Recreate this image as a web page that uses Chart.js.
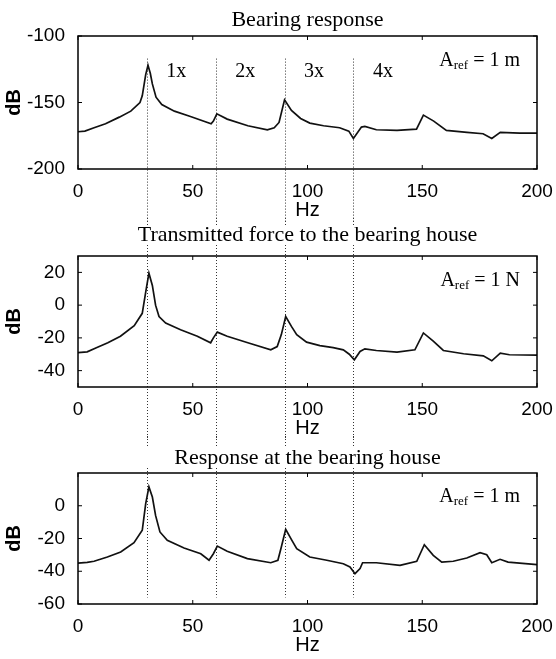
<!DOCTYPE html>
<html>
<head>
<meta charset="utf-8">
<script src="https://cdn.jsdelivr.net/npm/chart.js@4.4.1/dist/chart.umd.min.js"></script>
<style>
  body { margin: 0; background: #fff; }
  #wrap { position: relative; width: 556px; height: 659px; }
  canvas { position: absolute; left: 0; }
</style>
</head>
<body>
<div id="wrap">
  <canvas id="c1" width="556" height="222" style="top:0px"></canvas>
  <canvas id="c2" width="556" height="222" style="top:218px"></canvas>
  <canvas id="c3" width="556" height="223" style="top:436px"></canvas>
</div>
<script>
// Hz
const xTicks = [0, 50, 100, 150, 200];
const harmonics = [30, 60, 90, 120];
const harmonicLabels = ['1x', '2x', '3x', '4x'];

// bearing response, dB re 1 m
const freq1 = [0, 3, 7, 12, 18, 23, 27, 28, 29.5, 30.5, 31.5, 32.4, 34, 36.5, 42, 49, 58, 59, 60.5, 65, 74, 82.5, 85.5, 87.6, 90, 93, 97, 101, 107, 114, 118, 120, 123.5, 125, 130, 139, 147.5, 150.5, 155, 160.5, 169.5, 176.5, 180.3, 184, 192.5, 200];
const resp1 = [-172, -171.5, -169, -166, -161, -156.5, -150, -145, -129, -122, -128, -136, -146, -151.5, -156.5, -160.5, -166, -164, -158.5, -162.5, -167.5, -170.5, -169, -165, -148, -156, -162, -165.5, -167.5, -169, -171.5, -177, -168.5, -168, -170.5, -171, -170, -159.5, -164, -171, -172.5, -173.5, -177, -172.5, -173, -173];
const yTicks1 = [-100, -150, -200];

// transmitted force, dB re 1 N
const freq2 = [0, 4, 8, 13, 18.5, 24.5, 28, 29.5, 30.9, 32.4, 33.8, 35.3, 38.2, 44.7, 52, 57.8, 59, 60.7, 65, 74, 84, 86.8, 88.6, 90.5, 93, 95.3, 99.6, 105.4, 111.2, 115.6, 118.2, 120.4, 122.9, 125, 130, 139, 146.8, 150.5, 154.8, 159.2, 168, 176.6, 180.3, 184, 188, 200];
const force2 = [-29, -28.5, -26, -23, -19, -12.5, -5, 8, 19.5, 12, 0, -7, -11, -15, -19, -23, -20, -16.5, -19, -23, -27.3, -25.3, -18, -7, -13, -18, -22.6, -24.7, -26, -27.3, -30, -33.4, -28.3, -26.7, -27.7, -28.7, -27.3, -17, -22, -27.7, -29.7, -31, -34, -29.3, -30.3, -30.5];
const yTicks2 = [20, 0, -20, -40];

// bearing house response, dB re 1 m
const freq3 = [0, 4, 7, 12.8, 18.6, 24.4, 28, 29.5, 30.9, 32.4, 33.8, 35.7, 38.9, 46.2, 53.5, 57.1, 59, 60.7, 65, 73.8, 84, 87.1, 88.6, 90.5, 93.2, 95.3, 101, 108.4, 115.6, 118.5, 120.7, 122.9, 124, 130, 140.3, 147.6, 150.9, 154.8, 158.5, 163.5, 169.4, 175.2, 178.1, 180.3, 183.9, 187.4, 200];
const resp3 = [-35, -34.6, -33.9, -31.3, -28.2, -22.6, -15, 1.3, 11.5, 5.3, -5.9, -16, -21.1, -25.8, -29.3, -33.3, -29.3, -24.6, -27.8, -32.3, -34.8, -33.3, -25.2, -14.4, -21.1, -26.2, -31.3, -33.3, -35.4, -37.4, -41.5, -38.4, -34.8, -34.8, -36.4, -33.9, -23.8, -30.3, -34.4, -33.9, -31.9, -28.7, -29.9, -34.8, -32.7, -34.4, -36];
const yTicks3 = [0, -20, -40, -60];

const sans = 'Liberation Sans, Arial, sans-serif';
const serif = 'Liberation Serif, Times New Roman, serif';

// frame, inward ticks, dotted harmonic lines, titles and text notes
const marksPlugin = {
  id: 'marks',
  beforeDatasetsDraw(chart, args, opts) {
    const { ctx, scales: { x, y } } = chart;
    ctx.save();
    ctx.strokeStyle = '#333';
    ctx.lineWidth = 1;
    ctx.setLineDash([1, 2]);
    harmonics.forEach(h => {
      const px = Math.round(x.getPixelForValue(h)) + 0.5;
      ctx.beginPath();
      if (opts.lineFrom !== undefined) {
        ctx.moveTo(px, y.getPixelForValue(opts.lineFrom));
      } else {
        ctx.moveTo(px, 0);
        ctx.lineTo(px, opts.titleY - 10);
        ctx.moveTo(px, opts.titleY + 10);
      }
      ctx.lineTo(px, opts.lineTo !== undefined ? y.getPixelForValue(opts.lineTo) : chart.height);
      ctx.stroke();
    });
    ctx.restore();
  },
  afterDatasetsDraw(chart, args, opts) {
    const { ctx, chartArea: a, scales: { x, y } } = chart;
    ctx.save();
    ctx.strokeStyle = '#000';
    ctx.lineWidth = 1;
    const t = 4;
    x.ticks.forEach(tk => {
      const px = x.getPixelForValue(tk.value);
      ctx.beginPath();
      ctx.moveTo(px, a.bottom); ctx.lineTo(px, a.bottom - t);
      ctx.moveTo(px, a.top); ctx.lineTo(px, a.top + t);
      ctx.stroke();
    });
    y.ticks.forEach(tk => {
      const py = y.getPixelForValue(tk.value);
      ctx.beginPath();
      ctx.moveTo(a.left, py); ctx.lineTo(a.left + t, py);
      ctx.moveTo(a.right, py); ctx.lineTo(a.right - t, py);
      ctx.stroke();
    });
    ctx.lineWidth = 1.5;
    ctx.strokeRect(a.left, a.top, a.width, a.height);

    ctx.fillStyle = '#000';
    // panel title, centred over the plot box
    ctx.font = '22px ' + serif;
    ctx.textAlign = 'center';
    ctx.textBaseline = 'middle';
    ctx.fillText(opts.title, (a.left + a.right) / 2, opts.titleY);

    ctx.textBaseline = 'alphabetic';
    if (opts.labels) {
      ctx.font = '20px ' + serif;
      ctx.textAlign = 'left';
      harmonicLabels.forEach((s, i) => {
        ctx.fillText(s, x.getPixelForValue(harmonics[i] + 8.5), y.getPixelForValue(opts.labelY));
      });
    }
    // A_ref note, right aligned
    const base = a.top + opts.arefY;
    ctx.font = '20px ' + serif;
    const tail = ' = 1 ' + opts.unit;
    const wTail = ctx.measureText(tail).width;
    const wA = ctx.measureText('A').width;
    ctx.font = '13px ' + serif;
    const wSub = ctx.measureText('ref').width;
    let px = a.right - 17 - wTail - wSub - wA;
    ctx.textAlign = 'left';
    ctx.font = '20px ' + serif;
    ctx.fillText('A', px, base);
    px += wA;
    ctx.font = '13px ' + serif;
    ctx.fillText('ref', px, base + 3);
    px += wSub;
    ctx.font = '20px ' + serif;
    ctx.fillText(tail, px, base);
    ctx.restore();
  }
};

function makeChart(id, padTop, xs, ys, yMin, yMax, yTicks, marks, padBottom) {
  const ctx = document.getElementById(id).getContext('2d');
  return new Chart(ctx, {
    type: 'line',
    data: {
      datasets: [{
        data: xs.map((v, i) => ({ x: v, y: ys[i] })),
        borderColor: '#111',
        borderWidth: 1.7,
        pointRadius: 0,
        tension: 0,
        fill: false
      }]
    },
    options: {
      responsive: false,
      animation: false,
      devicePixelRatio: 1,
      layout: { padding: { left: 0, right: 19, top: padTop, bottom: padBottom } },
      plugins: {
        legend: { display: false },
        tooltip: { enabled: false },
        title: { display: false },
        marks: marks
      },
      scales: {
        x: {
          type: 'linear',
          min: 0,
          max: 200,
          afterBuildTicks: s => { s.ticks = xTicks.map(v => ({ value: v })); },
          afterFit: s => { s.height = 53; },
          grid: { display: false },
          border: { display: false },
          ticks: { color: '#000', padding: 3, maxRotation: 0, font: { family: sans, size: 19 } },
          title: { display: true, text: 'Hz', color: '#000', padding: 0, font: { family: sans, size: 20 } }
        },
        y: {
          min: yMin,
          max: yMax,
          afterBuildTicks: s => { s.ticks = yTicks.map(v => ({ value: v })); },
          afterFit: s => { s.width = 78; },
          grid: { display: false },
          border: { display: false },
          ticks: { color: '#000', padding: 5, font: { family: sans, size: 19 } },
          title: { display: true, text: 'dB', color: '#000', padding: { top: 2, bottom: 0 }, font: { family: sans, size: 20, weight: 'bold' } }
        }
      }
    },
    plugins: [marksPlugin]
  });
}

makeChart('c1', 36, freq1, resp1, -200, -100, yTicks1,
  { title: 'Bearing response', titleY: 20, lineFrom: -117, labels: true, labelY: -131, unit: 'm', arefY: 30 }, 0);
makeChart('c2', 38, freq2, force2, -50, 30, yTicks2,
  { title: 'Transmitted force to the bearing house', titleY: 17, labels: false, unit: 'N', arefY: 30 }, 0);
makeChart('c3', 37, freq3, resp3, -60, 20, yTicks3,
  { title: 'Response at the bearing house', titleY: 22, lineTo: -56, labels: false, unit: 'm', arefY: 29 }, 2);
</script>
</body>
</html>
